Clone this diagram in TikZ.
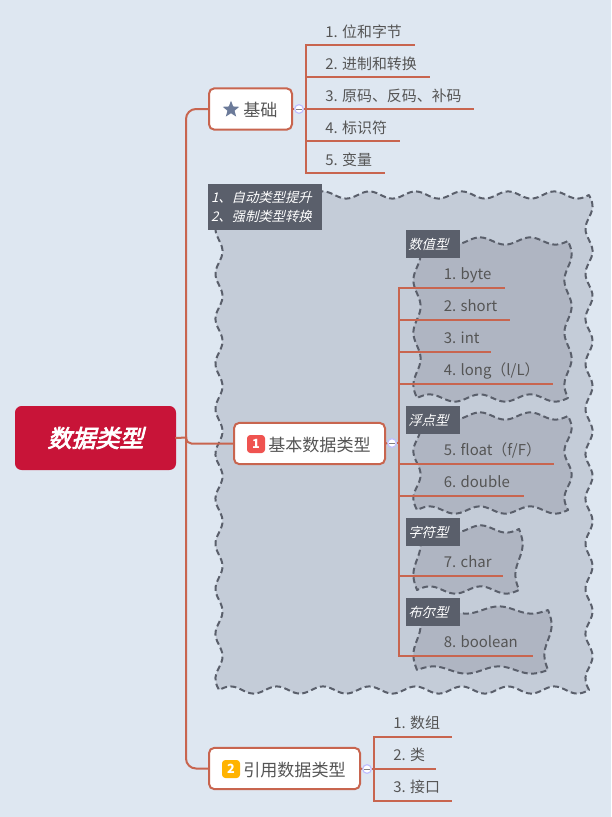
\documentclass[tikz,border=0pt]{standalone}
\usepackage{fontspec}
\usetikzlibrary{shapes.geometric}
\setmainfont{Noto Sans CJK SC}
\newfontfamily\slantfont[FakeSlant=0.25]{Noto Sans CJK SC}
\newfontfamily\rootfont[FakeSlant=0.25,FakeBold=3]{Noto Sans CJK SC}
\definecolor{bgc}{HTML}{DEE7F1}
\definecolor{linec}{HTML}{C8654F}
\definecolor{tagc}{HTML}{5A5F6B}
\definecolor{txtc}{HTML}{555555}
\definecolor{outerc}{HTML}{C4CCD8}
\definecolor{innerc}{HTML}{AFB5C2}
\tikzset{
  conn/.style={draw=linec,line width=1.5pt,line cap=rect},
  trunk/.style={draw=linec,line width=1.5pt,rounded corners=7.5pt},
  wave/.style={draw=tagc,line width=1.5pt,line join=round,dash pattern=on 4.5pt off 2.6pt},
  topicbox/.style={draw=linec,line width=1.5pt,fill=white,rounded corners=4pt,inner sep=0pt},
  topictext/.style={text=txtc,inner sep=0pt,anchor=west,font=\fontsize{12.8}{15}\selectfont},
  leaf/.style={text=txtc,inner sep=0pt,anchor=west,text height=8.5pt,text depth=2pt,font=\fontsize{11.2}{14}\selectfont},
  tag/.style={fill=tagc,text=white,inner sep=0pt,font=\fontsize{10}{14}\slantfont,align=left},
  badge/.style={rounded corners=2.5pt,minimum width=13.5pt,minimum height=13.5pt,inner sep=0pt,text=white,font=\fontsize{9.5}{10}\selectfont\bfseries},
  collapse/.style={circle,draw=blue!25!white,line width=0.9pt,fill=white,minimum size=6.5pt,inner sep=0pt,
    path picture={\draw[gray,line width=0.7pt] ([xshift=-2pt]path picture bounding box.center)--([xshift=2pt]path picture bounding box.center);}},
}
\newcommand\wavy[6]{%
  \draw[wave,#6]
   plot[smooth,domain=0:1,samples=81] ({#1+(#3-#1)*\x},{#2-3.6*sin(360*#5*\x)})
   -- plot[smooth,domain=0:1,samples=81] ({#3+3.6*sin(360*#4*\x)},{#2+(\wavyH)*\x})
   -- plot[smooth,domain=1:0,samples=81] ({#1+(#3-#1)*\x},{#2+\wavyH-3.6*sin(360*#5*\x)})
   -- plot[smooth,domain=1:0,samples=81] ({#1+3.6*sin(360*#4*\x)},{#2+(\wavyH)*\x})
   -- cycle;}
\begin{document}
\begin{tikzpicture}[x=0.75pt,y=-0.75pt]
\useasboundingbox (0,0) rectangle (611,817);
\fill[bgc] (0,0) rectangle (611,817);
% wavy boundaries
\def\wavyH{495}\wavy{219}{195}{589}{11}{8}{fill=outerc}
\def\wavyH{157}\wavy{417}{241}{568}{3}{3}{fill=innerc}
\def\wavyH{94}\wavy{417}{416}{568}{2}{3}{fill=innerc}
\def\wavyH{61}\wavy{417}{529}{519}{1}{2}{fill=innerc}
\def\wavyH{60}\wavy{417}{610}{548}{1}{2}{fill=innerc}
% tags
\node[tag,minimum width=85.5pt,minimum height=34.5pt,text width=81pt] (noteA) at (265,207) {1、自动类型提升\\2、强制类型转换};
\node[tag,minimum width=40.5pt,minimum height=21pt,text width=37pt] (tagA) at (433,244) {数值型};
\node[tag,minimum width=40.5pt,minimum height=21pt,text width=37pt] (tagB) at (433,420) {浮点型};
\node[tag,minimum width=40.5pt,minimum height=21pt,text width=37pt] (tagC) at (433,532) {字符型};
\node[tag,minimum width=40.5pt,minimum height=21pt,text width=37pt] (tagD) at (433,612) {布尔型};
% root and topic boxes
\node[rounded corners=5pt,fill={rgb,255:red,200;green,20;blue,56},minimum width=120.75pt,minimum height=48pt,inner sep=0pt,text=white,font=\fontsize{18}{20}\rootfont] (root) at (95.5,438) {\raisebox{-0.8pt}{数据类型}};
\node[topicbox,minimum width=62.25pt,minimum height=31pt] (bA) at (250.5,109) {};
\node[topicbox,minimum width=113.25pt,minimum height=31pt] (bB) at (309.5,443.5) {};
\node[topicbox,minimum width=113.25pt,minimum height=31pt] (bC) at (284.5,768.5) {};
% trunk connectors
\coordinate (hub) at (186,437.5);
\coordinate (tr1) at (186,109);
\coordinate (tr3) at (186,768.5);
\coordinate (trm) at (186,443.5);
\draw[conn] (root.east) -- (hub);
\draw[trunk] (bA.west) -- (tr1) -- (tr3) -- (bC.west);
\draw[conn,rounded corners=4pt] (hub) -- (trm) -- (bB.west);
% collapse buttons
\node[collapse] (cA) at (299,109) {};
\node[collapse] (cB) at (392,443) {};
\node[collapse] (cC) at (367,769) {};
\draw[conn,line cap=butt] (bA.east) -- (cA.west);
\draw[conn,line cap=butt] (bB.east) -- (cB.west);
\draw[conn,line cap=butt] (bC.east) -- (cC.west);
% group A
\coordinate (aT) at (306,45); \coordinate (aB) at (306,173);
\coordinate (a1) at (414,45);
\coordinate (a2s) at (306,77); \coordinate (a2) at (429,77);
\coordinate (a3) at (474,109);
\coordinate (a4s) at (306,141); \coordinate (a4) at (399,141);
\coordinate (a5) at (384,173);
\draw[conn] (aT) -- (aB);
\draw[conn] (aT) -- (a1);
\draw[conn] (a2s) -- (a2);
\draw[conn,line cap=butt] (cA.east) -- (a3);
\draw[conn] (a4s) -- (a4);
\draw[conn] (aB) -- (a5);
\node[leaf] (ta1) at (325,33) {1. 位和字节};
\node[leaf] (ta2) at (325,65) {2. 进制和转换};
\node[leaf] (ta3) at (325,97) {3. 原码、反码、补码};
\node[leaf] (ta4) at (325,129) {4. 标识符};
\node[leaf] (ta5) at (325,161) {5. 变量};
% group B
\coordinate (bT) at (399,288); \coordinate (bBot) at (399,656); \coordinate (bM) at (399,443);
\draw[conn] (bT) -- (bBot);
\draw[conn,line cap=butt] (cB.east) -- (bM);
\foreach \n/\yy/\xe in {1/288/504,2/320/509,3/352/490,4/384/552,5/464/553,6/496/523,7/576/502,8/656/532}{
  \coordinate (bs\n) at (399,\yy); \coordinate (be\n) at (\xe,\yy);
  \draw[conn] (bs\n) -- (be\n);
}
\node[leaf] (tb1) at (443.5,275) {1. byte};
\node[leaf] (tb2) at (443.5,307) {2. short};
\node[leaf] (tb3) at (443.5,339) {3. int};
\node[leaf] (tb4) at (443.5,371) {4. long（l/L）};
\node[leaf] (tb5) at (443.5,451) {5. float（f/F）};
\node[leaf] (tb6) at (443.5,483) {6. double};
\node[leaf] (tb7) at (443.5,563) {7. char};
\node[leaf] (tb8) at (443.5,643) {8. boolean};
% group C
\coordinate (cT) at (374,737); \coordinate (cBot) at (374,801);
\coordinate (c1) at (451,737); \coordinate (c2) at (436,769); \coordinate (c3) at (451,801);
\draw[conn] (cT) -- (cBot);
\draw[conn] (cT) -- (c1);
\draw[conn,line cap=butt] (cC.east) -- (c2);
\draw[conn] (cBot) -- (c3);
\node[leaf] (tc1) at (393,724) {1. 数组};
\node[leaf] (tc2) at (393,756) {2. 类};
\node[leaf] (tc3) at (393,788) {3. 接口};
% topic contents
\node[star,star points=5,star point ratio=2.3,fill={rgb,255:red,107;green,122;blue,153},minimum size=13pt,inner sep=0pt] (sA) at (231,109.5) {};
\node[topictext] (lA) at (243,110) {基础};
\node[badge,fill={rgb,255:red,239;green,83;blue,80}] (nB) at (256,444) {1};
\node[topictext] (lB) at (268,445) {基本数据类型};
\node[badge,fill={rgb,255:red,255;green,179;blue,0}] (nC) at (231,769) {2};
\node[topictext] (lC) at (243,770) {引用数据类型};
\end{tikzpicture}
\end{document}
